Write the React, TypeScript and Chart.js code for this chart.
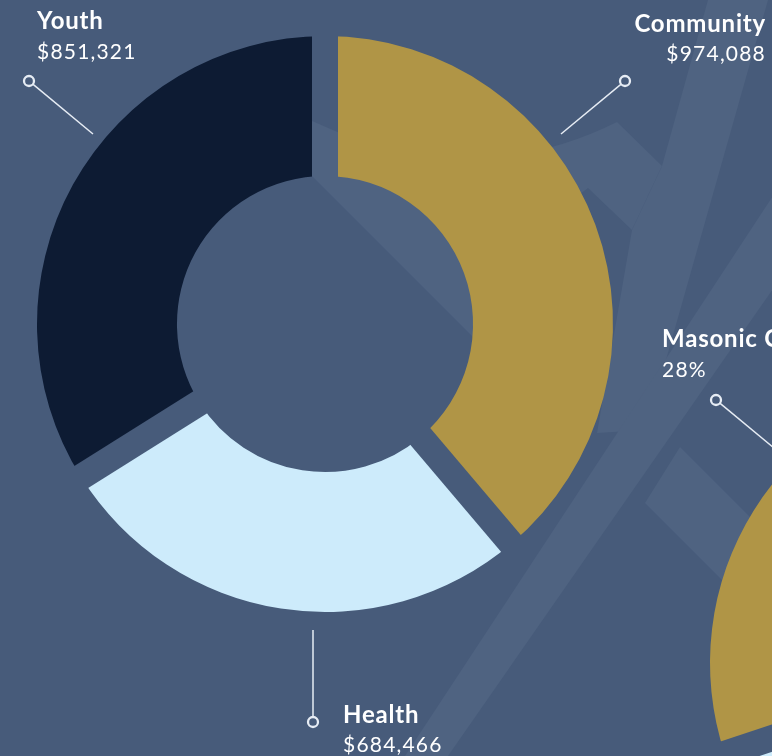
import React, { useEffect, useRef } from 'react';
import { Chart, registerables } from 'chart.js';

Chart.register(...registerables);

// ---- main doughnut data ----
const categories = ['Community', 'Health', 'Youth'];
const amounts = [974088, 684466, 851321];
const amountLabels = ['$974,088', '$684,466', '$851,321'];
const colors = ['#b09546', '#cdebfb', '#0d1b33'];

// ---- second (partially visible) doughnut data ----
const categories2 = ['Masonic Charities', 'Other Programs', 'Other Grants'];
const shares2 = [28, 38, 34];
const shareLabels2 = ['28%', '38%', '34%'];
const colors2 = ['#b09546', '#0d1b33', '#cdebfb'];

const BG = '#475b7a';
const BG_LIGHT = '#4f6381';
const FONT = 'Lato, "Open Sans", sans-serif';

const gapCut = {
  id: 'gapCut',
  afterDatasetsDraw(chart: any, _args: any, opts: any) {
    const meta = chart.getDatasetMeta(0);
    const ctx = chart.ctx as CanvasRenderingContext2D;
    ctx.save();
    ctx.globalCompositeOperation = 'destination-out';
    ctx.lineWidth = opts.width || 26;
    ctx.lineCap = 'butt';
    ctx.strokeStyle = '#000';
    meta.data.forEach((arc: any) => {
      const p = arc.getProps(['x', 'y', 'startAngle', 'outerRadius'], true);
      const r = p.outerRadius + 12;
      ctx.beginPath();
      ctx.moveTo(p.x, p.y);
      ctx.lineTo(p.x + Math.cos(p.startAngle) * r, p.y + Math.sin(p.startAngle) * r);
      ctx.stroke();
    });
    ctx.restore();
  },
};

const leaders = {
  id: 'leaders',
  afterDraw(chart: any, _args: any, opts: any) {
    const arc = chart.getDatasetMeta(0).data[0];
    if (!arc) return;
    const cx = arc.x;
    const cy = arc.y;
    const ctx = chart.ctx as CanvasRenderingContext2D;
    ctx.save();
    ctx.strokeStyle = '#e6ecf4';
    (opts.items || []).forEach((l: any) => {
      const x1 = cx + l.from[0];
      const y1 = cy + l.from[1];
      const x2 = cx + l.to[0];
      const y2 = cy + l.to[1];
      const dx = x2 - x1;
      const dy = y2 - y1;
      const len = Math.hypot(dx, dy);
      const r = 5;
      ctx.lineWidth = 1.5;
      ctx.beginPath();
      ctx.moveTo(x1, y1);
      ctx.lineTo(x2 - (dx / len) * r, y2 - (dy / len) * r);
      ctx.stroke();
      ctx.lineWidth = 2.3;
      ctx.beginPath();
      ctx.arc(x2, y2, r, 0, Math.PI * 2);
      ctx.stroke();
    });
    ctx.restore();
  },
};

function TextLabel(props: {
  x: number;
  align: 'left' | 'right';
  titleBase: number;
  valueBase: number;
  title: string;
  value: string;
}) {
  const tSize = 24;
  const vSize = 21;
  const common: React.CSSProperties = {
    position: 'absolute',
    whiteSpace: 'nowrap',
    color: '#ffffff',
    fontFamily: FONT,
    lineHeight: 1,
  };
  const horiz: React.CSSProperties =
    props.align === 'left' ? { left: props.x } : { right: 772 - props.x };
  return (
    <>
      <div
        style={{
          ...common,
          ...horiz,
          top: props.titleBase - 0.887 * tSize,
          fontSize: tSize,
          fontWeight: 700,
          letterSpacing: '0.8px',
        }}
      >
        {props.title}
      </div>
      <div
        style={{
          ...common,
          ...horiz,
          top: props.valueBase - 0.887 * vSize,
          fontSize: vSize,
          fontWeight: 400,
          letterSpacing: '1.2px',
        }}
      >
        {props.value}
      </div>
    </>
  );
}

export default function App() {
  const mainRef = useRef<HTMLCanvasElement>(null);
  const sideRef = useRef<HTMLCanvasElement>(null);

  useEffect(() => {
    document.body.style.margin = '0';
    const c1 = new Chart(mainRef.current as HTMLCanvasElement, {
      type: 'doughnut',
      data: {
        labels: categories,
        datasets: [
          {
            data: amounts,
            backgroundColor: colors,
            borderWidth: 0,
            hoverOffset: 0,
          },
        ],
      },
      options: {
        responsive: false,
        animation: false,
        events: [],
        cutout: '51.4%',
        layout: { padding: { left: 37, top: 36, right: 159, bottom: 144 } },
        plugins: {
          legend: { display: false },
          tooltip: { enabled: false },
          gapCut: { width: 26 },
          leaders: {
            items: [
              { from: [-232, -190], to: [-296, -243] },
              { from: [236, -190], to: [300, -243] },
              { from: [-12, 306], to: [-12, 398] },
            ],
          },
        } as any,
      },
      plugins: [gapCut, leaders],
    });

    const c2 = new Chart(sideRef.current as HTMLCanvasElement, {
      type: 'doughnut',
      data: {
        labels: categories2,
        datasets: [
          {
            data: shares2,
            backgroundColor: colors2,
            borderWidth: 0,
            hoverOffset: 0,
          },
        ],
      },
      options: {
        responsive: false,
        animation: false,
        events: [],
        rotation: 251.6,
        cutout: '51.4%',
        layout: { padding: 80 },
        plugins: {
          legend: { display: false },
          tooltip: { enabled: false },
          gapCut: { width: 26 },
          leaders: {
            items: [{ from: [-218, -210], to: [-282, -263] }],
          },
        } as any,
      },
      plugins: [gapCut, leaders],
    });

    return () => {
      c1.destroy();
      c2.destroy();
    };
  }, []);

  return (
    <div
      style={{
        position: 'fixed',
        left: 0,
        top: 0,
        width: 772,
        height: 756,
        overflow: 'hidden',
        background: BG,
      }}
    >
      <svg
        width={772}
        height={756}
        style={{ position: 'absolute', left: 0, top: 0 }}
      >
        <rect x={0} y={0} width={772} height={756} fill={BG} />
        <path
          d="M290,110 Q460,200 617,122 L662,166 L632,230 L588,188 L520,240 L473,337 L313,177 L290,154 Z"
          fill={BG_LIGHT}
        />
        <polygon
          points="708,0 768,0 683,300 646,430 597,433 632,230 662,166"
          fill={BG_LIGHT}
        />
        <polygon points="405,756 448,756 800,250 790,170" fill={BG_LIGHT} />
        <polygon points="645,503 680,447 800,567 765,623" fill={BG_LIGHT} />
      </svg>
      <canvas
        ref={mainRef}
        width={772}
        height={756}
        style={{ position: 'absolute', left: 0, top: 0, display: 'block' }}
      />
      <canvas
        ref={sideRef}
        width={736}
        height={736}
        style={{ position: 'absolute', left: 630, top: 295, display: 'block' }}
      />
      <TextLabel
        x={37}
        align="left"
        titleBase={29}
        valueBase={59}
        title={categories[2]}
        value={amountLabels[2]}
      />
      <TextLabel
        x={766}
        align="right"
        titleBase={32}
        valueBase={61}
        title={categories[0]}
        value={amountLabels[0]}
      />
      <TextLabel
        x={343}
        align="left"
        titleBase={723}
        valueBase={752}
        title={categories[1]}
        value={amountLabels[1]}
      />
      <TextLabel
        x={662}
        align="left"
        titleBase={347}
        valueBase={377}
        title={categories2[0]}
        value={shareLabels2[0]}
      />
    </div>
  );
}
